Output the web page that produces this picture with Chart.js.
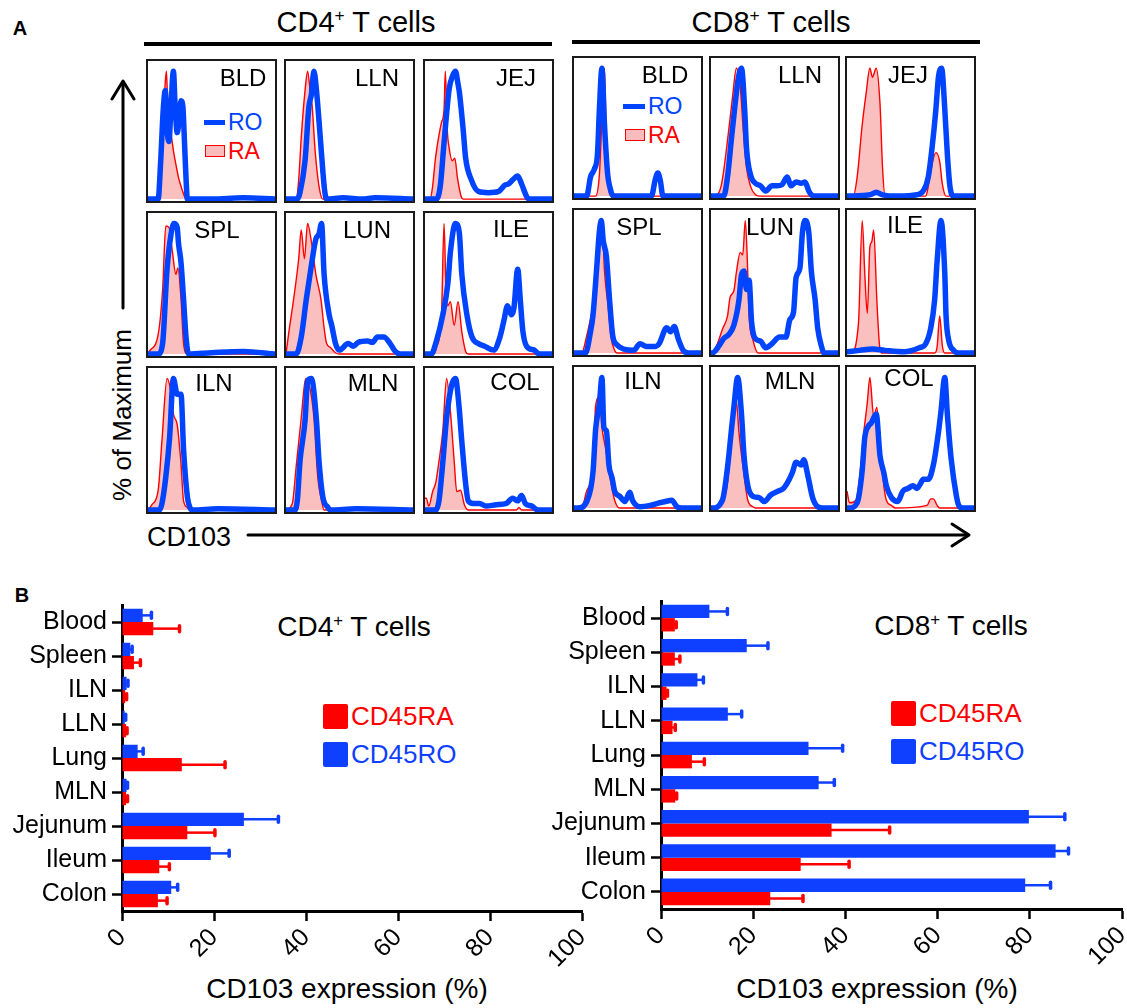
<!DOCTYPE html>
<html>
<head>
<meta charset="utf-8">
<script src="https://cdn.jsdelivr.net/npm/chart.js@4.4.1/dist/chart.umd.min.js"></script>
<style>
  body { margin: 0; background: #fff; font-family: "Liberation Sans", Arial, sans-serif; color: #000; }
  #page { position: relative; width: 1127px; height: 1008px; overflow: hidden; }
  .abs { position: absolute; white-space: nowrap; line-height: 1; }
  .c { transform: translate(-50%, -50%); }
  .ml { transform: translate(0, -50%); }
  .box { position: absolute; box-sizing: border-box; border: 2px solid #1a1a1a; }
  .box canvas { display: block; }
  .lbl { position: absolute; font-size: 24px; line-height: 1; transform: translate(-50%, -50%); white-space: nowrap; }
  .bar { position: absolute; }
  sup { font-size: 0.6em; vertical-align: 0.62em; line-height: 0; }
  .sq { position: absolute; width: 25px; height: 25px; border-radius: 2px; }
</style>
</head>
<body>
<div id="page">
  <div class="abs c" style="left:20px;top:28px;font-size:20px;font-weight:bold;">A</div>
  <div class="abs c" style="left:356px;top:22px;font-size:29px;">CD4<sup>+</sup> T cells</div>
  <div class="abs c" style="left:771px;top:22px;font-size:29px;">CD8<sup>+</sup> T cells</div>
  <div class="abs" style="left:144px;top:42px;width:408px;height:4px;background:#000;"></div>
  <div class="abs" style="left:572px;top:40px;width:408px;height:4px;background:#000;"></div>

  <div class="abs c" style="left:122px;top:415px;font-size:26px;transform:translate(-50%,-50%) rotate(-90deg);">% of Maximum</div>
  <div class="abs ml" style="left:147px;top:537px;font-size:27px;">CD103</div>

  <svg class="abs" style="left:0;top:0;" width="1127" height="1008">
    <g stroke="#000" stroke-width="3" fill="none" stroke-linecap="round" stroke-linejoin="round">
      <line x1="123" y1="82" x2="123" y2="308"/>
      <polyline points="112,99 123,81 134,99"/>
      <line x1="248" y1="535" x2="968" y2="535"/>
      <polyline points="952,524 969,535 952,546"/>
    </g>
  </svg>

  <!-- mini legends in the BLD boxes -->
  <div class="abs" style="left:204px;top:120px;width:21px;height:5px;background:#0044ff;"></div>
  <div class="abs ml" style="left:228px;top:122px;font-size:23px;color:#0044ff;">RO</div>
  <div class="abs" style="left:205px;top:145px;width:18px;height:10px;background:#f9bcbc;border:1.5px solid #ff0000;"></div>
  <div class="abs ml" style="left:228px;top:151px;font-size:23px;color:#ff0000;">RA</div>

  <div class="abs" style="left:623px;top:104px;width:22px;height:5px;background:#0044ff;"></div>
  <div class="abs ml" style="left:648px;top:106px;font-size:23px;color:#0044ff;">RO</div>
  <div class="abs" style="left:625px;top:129px;width:18px;height:10px;background:#f9bcbc;border:1.5px solid #ff0000;"></div>
  <div class="abs ml" style="left:648px;top:135px;font-size:23px;color:#ff0000;">RA</div>

  <!-- panel B -->
  <div class="abs c" style="left:22px;top:595px;font-size:20px;font-weight:bold;">B</div>
  <div class="abs c" style="left:354px;top:627px;font-size:28px;">CD4<sup>+</sup> T cells</div>
  <div class="abs c" style="left:951px;top:626px;font-size:28px;">CD8<sup>+</sup> T cells</div>

  <div class="sq" style="left:323px;top:704px;background:#ff0000;"></div>
  <div class="abs ml" style="left:351px;top:716px;font-size:26px;color:#ff0000;">CD45RA</div>
  <div class="sq" style="left:323px;top:742px;background:#0f3fff;"></div>
  <div class="abs ml" style="left:351px;top:754px;font-size:26px;color:#0f3fff;">CD45RO</div>

  <div class="sq" style="left:891px;top:701px;background:#ff0000;"></div>
  <div class="abs ml" style="left:919px;top:713px;font-size:26px;color:#ff0000;">CD45RA</div>
  <div class="sq" style="left:891px;top:739px;background:#0f3fff;"></div>
  <div class="abs ml" style="left:919px;top:751px;font-size:26px;color:#0f3fff;">CD45RO</div>

  <div class="abs c" style="left:347px;top:989px;font-size:28px;">CD103 expression (%)</div>
  <div class="abs c" style="left:877px;top:989px;font-size:28px;">CD103 expression (%)</div>

  <canvas id="barCD4" class="bar" width="604" height="428" style="left:0;top:580px;"></canvas>
  <canvas id="barCD8" class="bar" width="587" height="432" style="left:540px;top:576px;"></canvas>
</div>

<script>
// Panel B: CD103 expression (%) per tissue, mean and SD
const tissues = ["Blood", "Spleen", "ILN", "LLN", "Lung", "MLN", "Jejunum", "Ileum", "Colon"];
const xTicks = [0, 20, 40, 60, 80, 100];

const cd4RO = [4.5, 1.8, 1.0, 0.6, 3.4, 1.0, 26.5, 19.3, 10.7];
const cd4ROsd = [1.9, 0.4, 0.3, 0.2, 1.2, 0.2, 7.5, 4.0, 1.4];
const cd4RA = [6.8, 2.6, 0.7, 0.9, 13.0, 0.9, 14.2, 8.1, 7.8];
const cd4RAsd = [5.7, 1.4, 0.3, 0.2, 9.4, 0.3, 6.0, 2.2, 2.0];

const cd8RO = [10.5, 18.6, 7.9, 14.5, 32.0, 34.2, 79.8, 85.6, 79.0];
const cd8ROsd = [3.9, 4.6, 1.3, 3.0, 7.4, 3.4, 7.8, 2.8, 5.5];
const cd8RA = [3.0, 3.0, 1.2, 2.5, 6.7, 3.1, 37.0, 30.3, 23.7];
const cd8RAsd = [0.3, 1.1, 0.2, 0.6, 2.7, 0.3, 12.6, 10.5, 7.1];

// Panel A: histograms, [CD103 intensity 0-100, % of maximum]
const cd4RO_BLD = [[0,0],[8,0],[10,30],[12,70],[13.6,85],[15,55],[16.5,45],[18,70],[20,100],[21.5,70],[23,52],[24.5,62],[26,77],[27.5,72],[28.5,50],[30,15],[31,0],[50,0],[75,1],[100,0]];
const cd4RA_BLD = [[0,0],[8,0],[10,15],[12,55],[13.5,90],[14.5,100],[15.5,75],[17,60],[19,45],[20.5,35],[22,27],[24,17],[26,10],[28,4],[30,0],[100,0]];
const cd4RO_LLN = [[0,0],[9,0],[11,5],[15,30],[18,72],[20,82],[22,100],[24,85],[27,48],[29,22],[30.5,6],[32,0],[45,1],[60,0],[70,1],[100,0]];
const cd4RA_LLN = [[0,0],[8,0],[10,15],[12,48],[15,85],[17,100],[19,85],[20.5,74],[23,37],[26,10],[29,0],[100,0]];
const cd4RO_JEJ = [[0,0],[9,0],[12,10],[15,44],[19,86],[22,97],[24,100],[26,90],[27,84],[30,55],[32,32],[36.5,15],[42,6],[50,5],[58,6],[63,11],[66,12],[69,15],[73,18],[76,12],[80,2],[82,0],[100,0]];
const cd4RA_JEJ = [[0,0],[4,0],[6,10],[8,30],[11,50],[13,60],[15,70],[16,100],[17.5,55],[19,40],[21.5,30],[23.5,32],[25.5,17],[28.5,2],[30,0],[100,0]];
const cd4RO_SPL = [[0,0],[8,0],[11.5,8],[15,65],[18,91],[20.5,100],[23,97],[24,85],[26,70],[28,42],[30,12],[32,0],[50,1],[75,2],[100,0]];
const cd4RA_SPL = [[0,0],[1,2],[8,15],[11.5,49],[14,98],[16.5,97],[19,80],[22,61],[23.5,66],[26,42],[28,8],[31,0],[100,0]];
const cd4RO_LUN = [[0,0],[8,0],[12,13],[16,42],[20,68],[23.5,88],[26,92],[28,100],[30,61],[34,30],[36,22],[39,8],[42,3],[49,8],[53,6],[57,9],[64,10],[68,9],[72,13],[77,13],[82,8],[86,2],[90,0],[100,0]];
const cd4RA_LUN = [[0,0],[2,15],[6,42],[10,73],[12,95],[14.5,73],[17,100],[20,86],[23.5,61],[27.5,42],[30,20],[32,8],[35,5],[39,1],[42,0],[100,0]];
const cd4RO_ILE = [[0,0],[5,0],[9,10],[14,30],[18,54],[20,78],[24,100],[27,93],[29,61],[33,30],[37,13],[42,8],[47,6],[54,3],[59,13],[62,25],[65,37],[68,30],[70,35],[73,65],[75,42],[77,18],[80,6],[86,3],[90,0],[100,0]];
const cd4RA_ILE = [[0,0],[7,0],[9,5],[13,30],[15,100],[16.5,50],[18,37],[20,40],[23,22],[26,40],[29,17],[32,2],[34,0],[100,0]];
const cd4RO_ILN = [[0,0],[9,0],[11,5],[14,25],[17,55],[20,100],[23,88],[26,88],[28,46],[31,10],[33,2],[35,0],[55,1],[100,0]];
const cd4RA_ILN = [[0,0],[3,4],[8,15],[11,53],[15,100],[18,90],[20,73],[23,65],[26,35],[28,7],[31,2],[33,0],[100,0]];
const cd4RO_MLN = [[0,0],[7,0],[9,8],[11,37],[15,68],[17,98],[20,100],[24,68],[26,37],[29,10],[33,2],[35,0],[55,1],[100,0]];
const cd4RA_MLN = [[0,0],[5,5],[8,33],[12,70],[15.5,100],[19,92],[22,70],[25,25],[28,7],[30,0],[100,0]];
const cd4RO_COL = [[0,0],[8.5,0],[11,7],[14,36],[17,70],[21,95],[24,100],[26.5,82],[29,52],[32,20],[34,7],[38,5],[43,5],[48,3],[56,4],[64,5],[69,9],[73,7],[76,11],[79,5],[84,3],[89,0],[100,0]];
const cd4RA_COL = [[0,9],[1,9],[3,3],[6,14],[8.5,21],[11,37],[14,60],[17,100],[20,75],[23,37],[25,14],[28,15],[31,4],[34,0],[72,0],[74,2],[76,0],[100,0]];

const cd8RO_BLD = [[0,0],[10,0],[13,15],[16,21],[18.5,33],[20,68],[22,100],[24,56],[26.5,17],[28,8],[31,0],[61,0],[64,13],[66,18],[68,12],[70,0],[100,0]];
const cd8RA_BLD = [[0,0],[17,0],[20,17],[22,60],[24,100],[25.5,37],[27,8],[30,0],[100,0]];
const cd8RO_LLN = [[0,0],[10,0],[13,15],[16,44],[19,72],[21.5,92],[24,100],[26.5,68],[28,37],[31,17],[35,10],[39,8],[43,4],[48,8],[52,8],[56,9],[60,15],[63,8],[67,11],[71,10],[74,11],[77,4],[79,1],[82,0],[100,0]];
const cd8RA_LLN = [[0,0],[2,0],[8,8],[14,52],[17,78],[20,100],[23,86],[25.5,50],[28,22],[31,8],[35,1],[38,0],[100,0]];
const cd8RO_JEJ = [[0,0],[18,1],[23,3],[28,1],[40,0],[55,1],[60,4],[64,15],[67,38],[70,68],[72,93],[74.5,100],[77,68],[79,33],[81,8],[84,0],[100,0]];
const cd8RA_JEJ = [[0,0],[5,0],[8,15],[12,56],[15,80],[18,100],[20,93],[23,100],[26,72],[28,22],[30,0],[62,0],[63.5,5],[66,20],[70,34],[73,27],[75,10],[78,0],[100,0]];
const cd8RO_SPL = [[0,0],[9,0],[13,16],[15,29],[18,66],[20,92],[21.5,100],[23,85],[25.5,73],[28,40],[30.5,13],[34,6],[39,3],[47,2],[52,7],[57,5],[64,5],[67,7],[73,19],[76,16],[79,20],[82,11],[86,2],[90,0],[100,0]];
const cd8RA_SPL = [[0,0],[6,0],[10,13],[15,37],[18,66],[20,92],[22,100],[24,62],[27,34],[29,13],[32,2],[34,0],[100,0]];
const cd8RO_LUN = [[0,0],[1,0],[6,5],[10,11],[14,14],[18,21],[22,40],[24,59],[26,62],[28,48],[30,55],[32,23],[36,10],[39,9],[43,4],[48,7],[54,12],[59,12],[62,25],[65,31],[67,57],[70,64],[72,91],[74,100],[77,91],[79,62],[82,40],[84,19],[87,5],[89,0],[100,0]];
const cd8RA_LUN = [[0,0],[1,0],[5,7],[9,18],[13,28],[15,42],[18,47],[20,61],[23,76],[25,74],[27,100],[29,59],[30,28],[33,10],[37,0],[100,0]];
const cd8RO_ILE = [[0,1],[10,2],[20,3],[30,2],[45,1],[57,4],[62,7],[66,19],[69,40],[71,70],[74,100],[77,60],[78,28],[80,10],[84,2],[88,0],[100,0]];
const cd8RA_ILE = [[0,0],[3,0],[9,22],[12,100],[14,60],[16,30],[18,80],[19.5,84],[21,93],[23.5,40],[25.5,7],[27,0],[69,0],[71,5],[73,28],[75,6],[77,0],[100,0]];
const cd8RO_ILN = [[0,0],[3,0],[10,5],[15,28],[17,60],[20,80],[22,100],[23.5,62],[25.5,59],[27.5,33],[30,23],[32,13],[36,9],[40,5],[44,12],[46,6],[52,1],[60,2],[67,4],[72,5],[77,6],[81,1],[85,0],[100,0]];
const cd8RA_ILN = [[0,0],[6,0],[10,13],[12,17],[15,30],[17,78],[20,85],[22,62],[25,45],[29,20],[32,6],[36,0],[100,0]];
const cd8RO_MLN = [[0,0],[1,0],[9,6],[13,31],[16,59],[18,77],[21,100],[24,72],[26,40],[29,17],[33,9],[38,8],[42,5],[47,10],[53,13],[57,15],[60,19],[64,27],[67,35],[71,33],[73,37],[76,26],[80,8],[84,1],[88,0],[100,0]];
const cd8RA_MLN = [[0,0],[4,0],[8,6],[12,13],[14.5,35],[17,78],[20,82],[22,58],[25,33],[29,6],[33,1],[35,0],[100,0]];
const cd8RO_COL = [[0,0],[2,0],[8,4],[12,29],[14,54],[17,63],[19,65],[23,72],[26,40],[29,27],[31,17],[35,8],[40,5],[44,13],[48,15],[52,17],[55,15],[58,19],[60,22],[64,22],[68,33],[72,58],[74,74],[77,100],[79,72],[82,38],[86,10],[88,2],[91,0],[100,0]];
const cd8RA_COL = [[0,13],[2,4],[7,6],[10,24],[13,56],[16,81],[18,100],[21,70],[23.5,77],[26,47],[29,17],[31,6],[35,2],[38,0],[63,2],[66,7],[68,7],[71,2],[73,0],[100,0]];

// grid order: row by row
const cd4Panels = [
  ["BLD", cd4RO_BLD, cd4RA_BLD], ["LLN", cd4RO_LLN, cd4RA_LLN], ["JEJ", cd4RO_JEJ, cd4RA_JEJ],
  ["SPL", cd4RO_SPL, cd4RA_SPL], ["LUN", cd4RO_LUN, cd4RA_LUN], ["ILE", cd4RO_ILE, cd4RA_ILE],
  ["ILN", cd4RO_ILN, cd4RA_ILN], ["MLN", cd4RO_MLN, cd4RA_MLN], ["COL", cd4RO_COL, cd4RA_COL],
];
const cd8Panels = [
  ["BLD", cd8RO_BLD, cd8RA_BLD], ["LLN", cd8RO_LLN, cd8RA_LLN], ["JEJ", cd8RO_JEJ, cd8RA_JEJ],
  ["SPL", cd8RO_SPL, cd8RA_SPL], ["LUN", cd8RO_LUN, cd8RA_LUN], ["ILE", cd8RO_ILE, cd8RA_ILE],
  ["ILN", cd8RO_ILN, cd8RA_ILN], ["MLN", cd8RO_MLN, cd8RA_MLN], ["COL", cd8RO_COL, cd8RA_COL],
];

// layout of the histogram boxes (page px)
const boxW = 131;
const cd4Left = [146, 284, 423];
const cd4Top = [59, 211, 366];
const cd4H = [144, 147, 148];
const cd8Left = [572, 709, 845];
const cd8Top = [56, 208, 365];
const cd8H = [144, 149, 147];
// label centre inside each box, from box top-left
const cd4LabelPos = [[97,19],[93,19],[93,19],[71,19],[83,19],[88,18],[68,17],[89,17],[92,16]];
const cd8LabelPos = [[93,19],[91,19],[63,19],[67,19],[61,19],[60,17],[71,16],[81,16],[64,13]];

const BLUE = "#0044ff";
const RED = "#ff0000";
const PINK = "rgba(245, 140, 140, 0.55)";

Chart.defaults.font.family = '"Liberation Sans", Arial, sans-serif';
Chart.defaults.color = "#000";

const page = document.getElementById("page");

function drawHistogram(left, top, h, panel, labelPos) {
  const [name, ro, ra] = panel;
  const box = document.createElement("div");
  box.className = "box";
  box.style.left = left + "px";
  box.style.top = top + "px";
  box.style.width = boxW + "px";
  box.style.height = h + "px";
  const canvas = document.createElement("canvas");
  canvas.width = boxW - 4;
  canvas.height = h - 4;
  box.appendChild(canvas);
  const lbl = document.createElement("div");
  lbl.className = "lbl";
  lbl.textContent = name;
  lbl.style.left = labelPos[0] - 2 + "px";
  lbl.style.top = labelPos[1] - 2 + "px";
  box.appendChild(lbl);
  page.appendChild(box);

  new Chart(canvas, {
    type: "line",
    data: {
      datasets: [
        {
          data: ro.map(([x, y]) => ({ x, y })),
          borderColor: BLUE,
          borderWidth: 5.5,
          borderJoinStyle: "round",
          borderCapStyle: "round",
          pointRadius: 0,
          fill: false,
          cubicInterpolationMode: "monotone",
        },
        {
          data: ra.map(([x, y]) => ({ x, y })),
          borderColor: RED,
          borderWidth: 1.4,
          backgroundColor: PINK,
          pointRadius: 0,
          fill: "origin",
          cubicInterpolationMode: "monotone",
        },
      ],
    },
    options: {
      responsive: false,
      animation: false,
      events: [],
      layout: { padding: 0 },
      scales: {
        x: { type: "linear", min: 0, max: 100, display: false },
        y: { min: -1.5, max: 108, display: false },
      },
      plugins: { legend: { display: false }, tooltip: { enabled: false } },
    },
  });
}

cd4Panels.forEach((p, i) => {
  const r = Math.floor(i / 3), c = i % 3;
  drawHistogram(cd4Left[c], cd4Top[r], cd4H[r], p, cd4LabelPos[i]);
});
cd8Panels.forEach((p, i) => {
  const r = Math.floor(i / 3), c = i % 3;
  drawHistogram(cd8Left[c], cd8Top[r], cd8H[r], p, cd8LabelPos[i]);
});

// error bars: line from bar end to mean + sd with a small cap
const errorBars = {
  id: "errorBars",
  afterDatasetsDraw(chart) {
    const ctx = chart.ctx;
    const xScale = chart.scales.x;
    chart.data.datasets.forEach((ds, i) => {
      const meta = chart.getDatasetMeta(i);
      meta.data.forEach((bar, j) => {
        const end = xScale.getPixelForValue(ds.data[j] + ds.errors[j]);
        ctx.save();
        ctx.strokeStyle = ds.backgroundColor;
        ctx.lineWidth = 2.5;
        ctx.beginPath();
        ctx.moveTo(bar.x - 1, bar.y);
        ctx.lineTo(end, bar.y);
        ctx.stroke();
        ctx.lineWidth = 3.5;
        ctx.lineCap = "round";
        ctx.beginPath();
        ctx.moveTo(end, bar.y - 3);
        ctx.lineTo(end, bar.y + 3);
        ctx.stroke();
        ctx.restore();
      });
    });
  },
};

function drawBars(id, ro, roSd, ra, raSd, yWidth, xHeight, pad) {
  new Chart(document.getElementById(id), {
    type: "bar",
    data: {
      labels: tissues,
      datasets: [
        { label: "CD45RO", data: ro, errors: roSd, backgroundColor: "#0f3fff" },
        { label: "CD45RA", data: ra, errors: raSd, backgroundColor: "#ff0000" },
      ],
    },
    options: {
      indexAxis: "y",
      responsive: false,
      animation: false,
      events: [],
      layout: { padding: pad },
      datasets: { bar: { categoryPercentage: 0.78, barPercentage: 1.0 } },
      scales: {
        x: {
          min: 0,
          max: 100,
          afterBuildTicks: (axis) => { axis.ticks = xTicks.map((v) => ({ value: v })); },
          ticks: { font: { size: 25 }, color: "#000", maxRotation: 45, minRotation: 45, padding: 2 },
          grid: { drawOnChartArea: false, tickLength: 10, tickWidth: 2.5, tickColor: "#000" },
          border: { width: 3, color: "#000" },
          afterFit: (axis) => { axis.height = xHeight; axis.paddingLeft = 0; axis.paddingRight = 0; },
        },
        y: {
          ticks: { font: { size: 25 }, color: "#000", padding: 5 },
          grid: { drawOnChartArea: false, offset: false, tickLength: 10, tickWidth: 2.5, tickColor: "#000" },
          border: { width: 3, color: "#000" },
          afterFit: (axis) => { axis.width = yWidth; axis.paddingTop = 0; axis.paddingBottom = 0; },
        },
      },
      plugins: { legend: { display: false }, tooltip: { enabled: false } },
    },
    plugins: [errorBars],
  });
}

drawBars("barCD4", cd4RO, cd4ROsd, cd4RA, cd4RAsd, 122, 97, { top: 25, right: 22, bottom: 0, left: 0 });
drawBars("barCD8", cd8RO, cd8ROsd, cd8RA, cd8RAsd, 121, 99, { top: 25, right: 5, bottom: 0, left: 0 });
</script>
</body>
</html>
